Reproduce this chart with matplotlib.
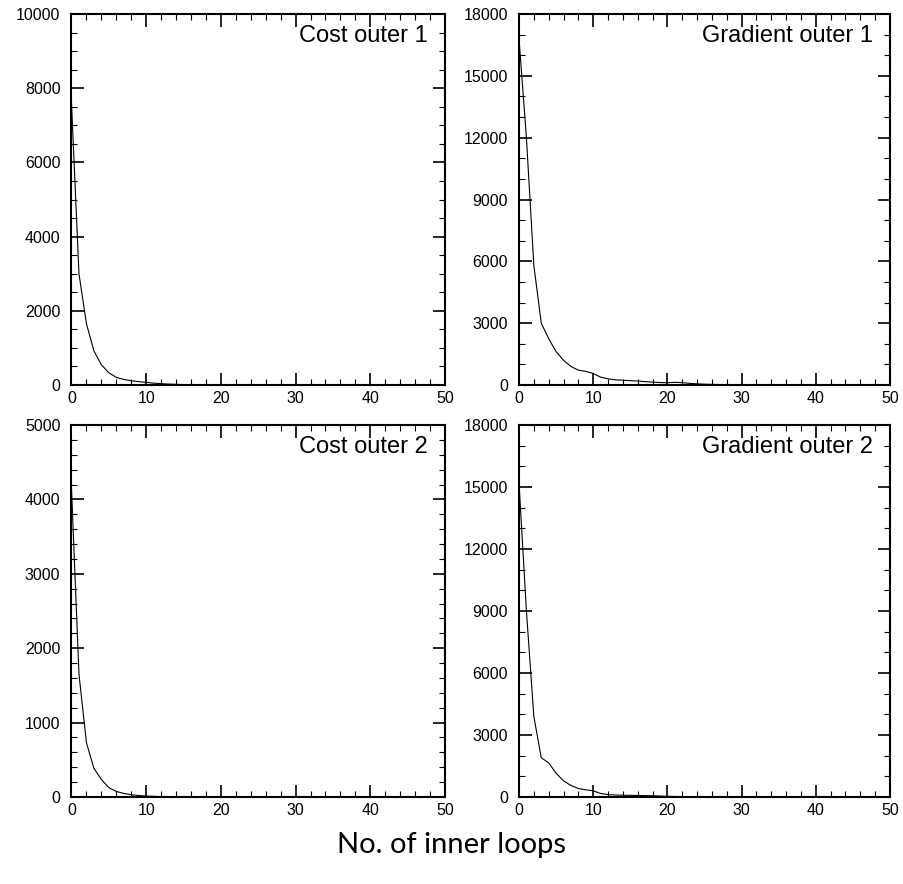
import matplotlib
matplotlib.use('Agg')
import matplotlib.pyplot as plt
from matplotlib.ticker import MultipleLocator

# cost / gradient norm per inner loop iteration, two outer loops
cost_outer1 = [7600, 3000, 1650, 920, 545, 330, 205, 150, 116, 90,
               71, 50, 36, 25, 18, 12, 8, 5, 3, 2, 1, 0, 0, 0, 0,
               0, 0, 0, 0, 0, 0, 0, 0, 0, 0, 0]
cost_outer2 = [4150, 1650, 730, 385, 235, 125, 75, 48, 31, 20,
               13, 9, 6, 4, 3, 2, 1, 1, 0, 0, 0, 0, 0, 0, 0,
               0, 0, 0, 0, 0, 0]
grad_outer1 = [16800, 12000, 5800, 3000, 2250, 1620, 1200, 900, 720, 660,
               560, 380, 300, 250, 230, 210, 190, 165, 140, 120,
               110, 130, 115, 80, 55, 40, 30, 25, 20, 16,
               13, 11, 9, 8, 7, 6, 5]
grad_outer2 = [15200, 9000, 3900, 1900, 1650, 1150, 780, 560, 410, 350,
               300, 170, 115, 95, 85, 80, 72, 66, 60, 45,
               32, 25, 18, 14, 10, 8, 6, 5, 4, 3, 2]

panels = [
    ("Cost outer 1", cost_outer1, 10000, 2000, 500),
    ("Gradient outer 1", grad_outer1, 18000, 3000, 1000),
    ("Cost outer 2", cost_outer2, 5000, 1000, 200),
    ("Gradient outer 2", grad_outer2, 18000, 3000, 1000),
]

W, H = 904, 884
fig = plt.figure(figsize=(W / 100, H / 100), dpi=100)

# axes boxes in pixels: left, right, top, bottom
boxes = [(71.5, 445, 14, 385), (519, 890, 14, 385),
         (71.5, 445, 425, 797), (519, 890, 425, 797)]

tick_font = dict(family='Liberation Sans', size=11.5)

for (title, vals, ymax, ymaj, ymin), (l, r, t, b) in zip(panels, boxes):
    ax = fig.add_axes([l / W, 1 - b / H, (r - l) / W, (b - t) / H])
    ax.plot(range(len(vals)), vals, color='black', lw=0.8)
    ax.set_xlim(0, 50)
    ax.set_ylim(0, ymax)
    ax.xaxis.set_major_locator(MultipleLocator(10))
    ax.xaxis.set_minor_locator(MultipleLocator(2))
    ax.yaxis.set_major_locator(MultipleLocator(ymaj))
    ax.yaxis.set_minor_locator(MultipleLocator(ymin))
    ax.tick_params(which='both', direction='in', top=True, right=True)
    ax.tick_params(which='major', length=9, width=1.2)
    ax.tick_params(which='minor', length=4.5, width=0.8)
    ax.tick_params(axis='y', which='major', pad=8)
    ax.tick_params(axis='x', which='major', pad=4)
    for lab in ax.get_xticklabels() + ax.get_yticklabels():
        lab.set_fontfamily(tick_font['family'])
        lab.set_fontsize(tick_font['size'])
    for sp in ax.spines.values():
        sp.set_linewidth(1.5)
    ax.text(0.955, 0.94, title, transform=ax.transAxes, ha='right', va='center',
            family='Liberation Sans', fontsize=17)

fig.text(0.5, 1 - 845 / H, "No. of inner loops", ha='center', va='center',
         family='Lato', fontsize=21)

plt.savefig('out.png', dpi=100)
